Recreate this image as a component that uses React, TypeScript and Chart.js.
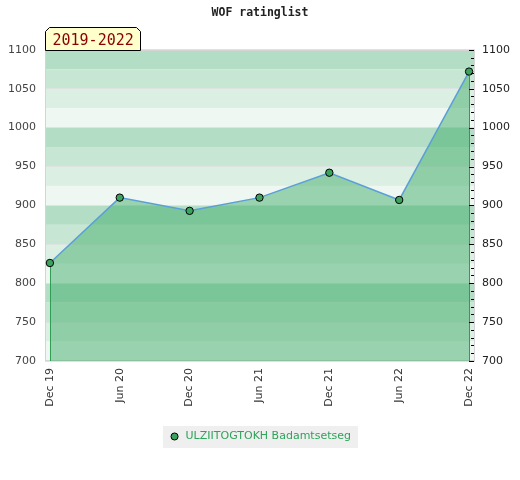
import React, { useEffect, useRef } from 'react';
import { Chart, registerables } from 'chart.js';

Chart.register(...registerables);

const TITLE = 'WOF ratinglist';
const PERIOD = '2019-2022';
const PLAYER = 'ULZIITOGTOKH Badamtsetseg';
const periods = ['Dec 19', 'Jun 20', 'Dec 20', 'Jun 21', 'Dec 21', 'Jun 22', 'Dec 22'];
const ratings = [826, 910, 893, 910, 942, 907, 1072];
const yMin = 700;
const yMax = 1100;
const majorStep = 50;
const minorStep = 10;
const bandStep = 25;
const bandColors = ['#b3dec5', '#c8e6d4', '#dcefe3', '#eef7f1'];

const POINT_COLOR = '#3ca35f';
const LINE_COLOR = '#5b9fd8';
const FILL_COLOR = 'rgba(68,174,107,0.5)';
const EDGE_COLOR = '#2f9e55';

const decorPlugin = {
  id: 'decor',
  beforeDraw(chart: any) {
    const { ctx, chartArea } = chart;
    const { left, right } = chartArea;
    const y = chart.scales.y;
    ctx.save();
    const hb = chart.legend && chart.legend.legendHitBoxes && chart.legend.legendHitBoxes[0];
    if (hb) {
      const cy = hb.top + hb.height / 2;
      ctx.fillStyle = '#efefef';
      ctx.fillRect(Math.round(hb.left - 6), Math.round(cy - 11), Math.round(hb.width + 13), 22);
    }
    let i = 0;
    for (let v = yMax; v > yMin; v -= bandStep, i++) {
      const yt = y.getPixelForValue(v);
      const yb = y.getPixelForValue(v - bandStep);
      ctx.fillStyle = bandColors[i % bandColors.length];
      ctx.fillRect(left, yt, right - left, yb - yt);
    }
    ctx.restore();
  },
  beforeDatasetsDraw(chart: any) {
    const { ctx, chartArea } = chart;
    const { left, right, top, bottom } = chartArea;
    ctx.save();
    ctx.strokeStyle = '#d4d4d4';
    ctx.lineWidth = 1;
    ctx.strokeRect(Math.round(left) + 0.5, Math.round(top) + 0.5, Math.round(right - left) - 1, Math.round(bottom - top) - 1);
    ctx.restore();
  },
  afterDatasetsDraw(chart: any) {
    const { ctx, chartArea } = chart;
    const meta = chart.getDatasetMeta(0);
    const pts = meta.data;
    ctx.save();
    ctx.strokeStyle = EDGE_COLOR;
    ctx.lineWidth = 1;
    [pts[0], pts[pts.length - 1]].forEach((p: any) => {
      const x = Math.round(p.x) + 0.5;
      ctx.beginPath();
      ctx.moveTo(x, p.y + 4);
      ctx.lineTo(x, chartArea.bottom);
      ctx.stroke();
    });
    const y2 = chart.scales.y2;
    ctx.strokeStyle = '#000';
    y2.ticks.forEach((t: any) => {
      const py = Math.round(y2.getPixelForValue(t.value)) + 0.5;
      const len = t.value % majorStep === 0 ? 5 : 3;
      ctx.beginPath();
      ctx.moveTo(chartArea.right - 1 - len, py);
      ctx.lineTo(chartArea.right - 1, py);
      ctx.stroke();
    });
    ctx.restore();
  },
  afterDraw(chart: any) {
    const { ctx, chartArea } = chart;
    const x0 = Math.round(chartArea.left) + 0.5;
    const x1 = x0 + 95;
    const y1 = Math.round(chartArea.top) + 0.5;
    const y0 = y1 - 23;
    const c = 4;
    ctx.save();
    ctx.beginPath();
    ctx.moveTo(x0, y1);
    ctx.lineTo(x0, y0 + c);
    ctx.lineTo(x0 + c, y0);
    ctx.lineTo(x1 - c, y0);
    ctx.lineTo(x1, y0 + c);
    ctx.lineTo(x1, y1);
    ctx.closePath();
    ctx.fillStyle = '#ffffcc';
    ctx.fill();
    ctx.strokeStyle = '#000';
    ctx.lineWidth = 1;
    ctx.stroke();
    ctx.fillStyle = '#8b0000';
    ctx.font = '15px "DejaVu Sans Mono"';
    ctx.textAlign = 'left';
    ctx.textBaseline = 'alphabetic';
    ctx.fillText(PERIOD, x0 + 7, y1 - 6);
    ctx.restore();
  },
};

export default function App() {
  const ref = useRef<HTMLCanvasElement>(null);
  useEffect(() => {
    document.body.style.margin = '0';
    const chart = new Chart(ref.current as HTMLCanvasElement, {
      type: 'line',
      data: {
        datasets: [
          {
            label: PLAYER,
            data: ratings.map((v, i) => ({ x: i, y: v })),
            borderColor: LINE_COLOR,
            borderWidth: 1.5,
            backgroundColor: FILL_COLOR,
            fill: 'start',
            tension: 0,
            pointRadius: 3.7,
            pointBackgroundColor: POINT_COLOR,
            pointBorderColor: '#000',
            pointBorderWidth: 1,
            pointStyle: 'circle',
          },
        ],
      },
      options: {
        animation: false,
        responsive: false,
        devicePixelRatio: 1,
        layout: { padding: { left: 0, right: 0, top: 0, bottom: 28 } },
        plugins: {
          tooltip: { enabled: false },
          title: {
            display: true,
            text: TITLE,
            color: '#222',
            font: { family: 'DejaVu Sans Mono', size: 11.5, weight: 'bold' },
            padding: { top: 6, bottom: 30 },
          },
          legend: {
            display: true,
            position: 'bottom',
            labels: {
              usePointStyle: true,
              boxWidth: 11,
              boxHeight: 5,
              padding: 10,
              color: '#2ea35a',
              font: { family: 'DejaVu Sans', size: 11 },
              generateLabels: (c: any) =>
                (Chart.defaults.plugins.legend.labels.generateLabels as any)(c).map((l: any) => ({
                  ...l,
                  fillStyle: POINT_COLOR,
                  strokeStyle: '#000',
                  lineWidth: 1,
                  pointStyle: 'circle',
                })),
            },
          },
        },
        scales: {
          x: {
            type: 'linear',
            min: -0.07,
            max: 6.085,
            afterBuildTicks: (s: any) => {
              s.ticks = periods.map((_, i) => ({ value: i }));
            },
            afterFit: (s: any) => {
              s.height = 60;
            },
            grid: { display: false, drawTicks: false },
            border: { display: false },
            ticks: {
              autoSkip: false,
              minRotation: 90,
              maxRotation: 90,
              padding: 7,
              color: '#333',
              font: { family: 'DejaVu Sans', size: 11 },
              callback: (v: any) => periods[v],
            },
          },
          y: {
            position: 'left',
            min: yMin,
            max: yMax,
            afterFit: (s: any) => {
              s.width = 45;
            },
            grid: { color: '#dde3e0', drawTicks: false },
            border: { display: false },
            ticks: {
              stepSize: majorStep,
              padding: 9,
              color: '#444',
              font: { family: 'DejaVu Sans', size: 11 },
              callback: (v: any) => String(v),
            },
          },
          y2: {
            position: 'right',
            min: yMin,
            max: yMax,
            afterFit: (s: any) => {
              s.width = 45;
            },
            grid: { drawOnChartArea: false, drawTicks: false },
            border: { display: false },
            ticks: {
              stepSize: minorStep,
              autoSkip: false,
              padding: 7,
              color: '#222',
              font: { family: 'DejaVu Sans', size: 11 },
              callback: (v: any) => (v % majorStep === 0 ? String(v) : ''),
            },
          },
        },
      },
      plugins: [decorPlugin],
    } as any);
    return () => chart.destroy();
  }, []);
  return (
    <div style={{ width: 520, height: 480 }}>
      <canvas ref={ref} width={520} height={480} style={{ display: 'block' }} />
    </div>
  );
}
